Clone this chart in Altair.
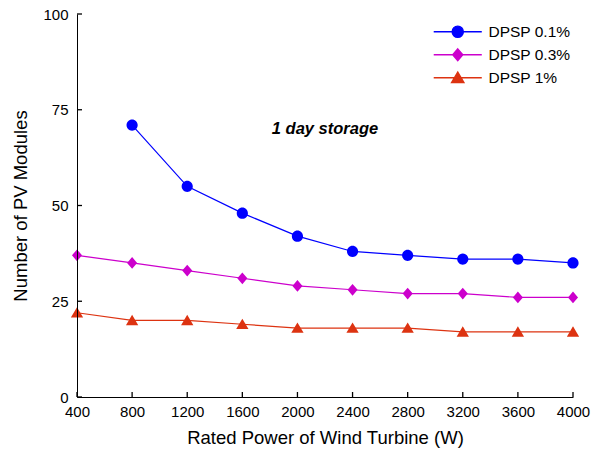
import altair as alt
import pandas as pd

rated_power = [400, 800, 1200, 1600, 2000, 2400, 2800, 3200, 3600, 4000]
dpsp_01 = [None, 71, 55, 48, 42, 38, 37, 36, 36, 35]
dpsp_03 = [37, 35, 33, 31, 29, 28, 27, 27, 26, 26]
dpsp_1 = [22, 20, 20, 19, 18, 18, 18, 17, 17, 17]
series_names = ["DPSP 0.1%", "DPSP 0.3%", "DPSP 1%"]
series_colors = ["#0000ff", "#cc00cc", "#dd3311"]
x_ticks = rated_power
y_ticks = [0, 25, 50, 75, 100]

rows = []
for name, vals in zip(series_names, [dpsp_01, dpsp_03, dpsp_1]):
    for x, v in zip(rated_power, vals):
        if v is not None:
            rows.append({"power": x, "modules": v, "series": name})
df = pd.DataFrame(rows)

shape_paths = [
    "M-4.3,0L4.3,0M1,0A1,1,0,1,1,-1,0A1,1,0,1,1,1,0Z",
    "M-4.3,0L4.3,0M0,-1.05L0.9,0L0,1.05L-0.9,0Z",
    "M-4.3,0L4.3,0M0,-1L1.1,0.85L-1.1,0.85Z",
]

FONT = "Liberation Sans"
W, H = 496, 383
X_DOM = [400, 4000]
Y_DOM = [0, 100]
TICK_PX = 5

xscale = alt.Scale(domain=X_DOM, nice=False, zero=False)
yscale = alt.Scale(domain=Y_DOM, nice=False)
cscale = alt.Scale(domain=series_names, range=series_colors)
line_scale = alt.Scale(range=series_colors)
sscale = alt.Scale(domain=series_names, range=shape_paths)

x_axis = alt.Axis(orient="bottom", values=x_ticks, format="d", ticks=False, tickSize=0,
                  grid=False, domain=True, domainColor="black", domainWidth=1,
                  labelColor="black", labelFontSize=15, labelFont=FONT, labelPadding=7,
                  labelFlush=False, title="Rated Power of Wind Turbine (W)",
                  titleFont=FONT, titleFontSize=18.5, titleFontWeight="normal",
                  titleColor="black", titlePadding=9, zindex=1)
y_axis = alt.Axis(orient="left", values=y_ticks, format="d", ticks=False, tickSize=0,
                  grid=False, domain=True, domainColor="black", domainWidth=1,
                  labelColor="black", labelFontSize=15, labelFont=FONT, labelPadding=9,
                  labelFlush=False, title="Number of PV Modules",
                  titleFont=FONT, titleFontSize=18.5, titleFontWeight="normal",
                  titleColor="black", titlePadding=12, zindex=1)

legend_kw = dict(
    title=None, orient="none", legendX=373, legendY=10,
    labelFont=FONT, labelFontSize=15.5, labelColor="black",
    labelOffset=23, symbolSize=125, rowPadding=5,
    symbolStrokeWidth=1.4,
    symbolStrokeColor={"expr": "scale('color', datum.value)"},
)

base = alt.Chart(df)

lines = base.mark_line(strokeWidth=1.2).encode(
    x=alt.X("power:Q", scale=xscale, axis=x_axis),
    y=alt.Y("modules:Q", scale=yscale, axis=y_axis),
    stroke=alt.Stroke("series:N", scale=line_scale, legend=None),
    detail="series:N",
)

points = base.mark_point(filled=True, size=125, opacity=1).encode(
    x=alt.X("power:Q", scale=xscale),
    y=alt.Y("modules:Q", scale=yscale),
    color=alt.Color("series:N", scale=cscale, legend=alt.Legend(**legend_kw)),
    shape=alt.Shape("series:N", scale=sscale, legend=alt.Legend(**legend_kw)),
)

# inward tick marks: short rules from each tick value on the axis line into the plot
dy = TICK_PX * (Y_DOM[1] - Y_DOM[0]) / H
dx = TICK_PX * (X_DOM[1] - X_DOM[0]) / W
xt = pd.DataFrame({"tick": x_ticks, "ya": [float(Y_DOM[0])] * len(x_ticks),
                   "yb": [Y_DOM[0] + dy] * len(x_ticks)})
yt = pd.DataFrame({"tick": y_ticks, "xa": [float(X_DOM[0])] * len(y_ticks),
                   "xb": [X_DOM[0] + dx] * len(y_ticks)})
tick_x = alt.Chart(xt).mark_rule(color="#000000", strokeWidth=1.3, strokeCap="butt").encode(
    x=alt.X("tick:Q", scale=xscale),
    y=alt.Y("ya:Q", scale=yscale),
    y2=alt.Y2("yb:Q"),
)
tick_y = alt.Chart(yt).mark_rule(color="#000000", strokeWidth=1.3, strokeCap="butt").encode(
    y=alt.Y("tick:Q", scale=yscale),
    x=alt.X("xa:Q", scale=xscale),
    x2=alt.X2("xb:Q"),
)

annotation = alt.Chart(pd.DataFrame({"label": ["1 day storage"]})).mark_text(
    font=FONT, fontSize=16.5, fontWeight="bold", fontStyle="italic", color="black"
).encode(
    x=alt.datum(2200, scale=xscale),
    y=alt.datum(70, scale=yscale),
    text="label:N",
)

chart = alt.layer(lines, points, annotation, tick_x, tick_y).properties(
    width=W, height=H,
    autosize=alt.AutoSizeParams(type="none"),
    padding={"left": 77, "top": 14, "right": 35, "bottom": 58},
    background="white",
).configure_view(stroke=None)

chart.save("out.html", embed_options={"renderer": "svg", "actions": False})
